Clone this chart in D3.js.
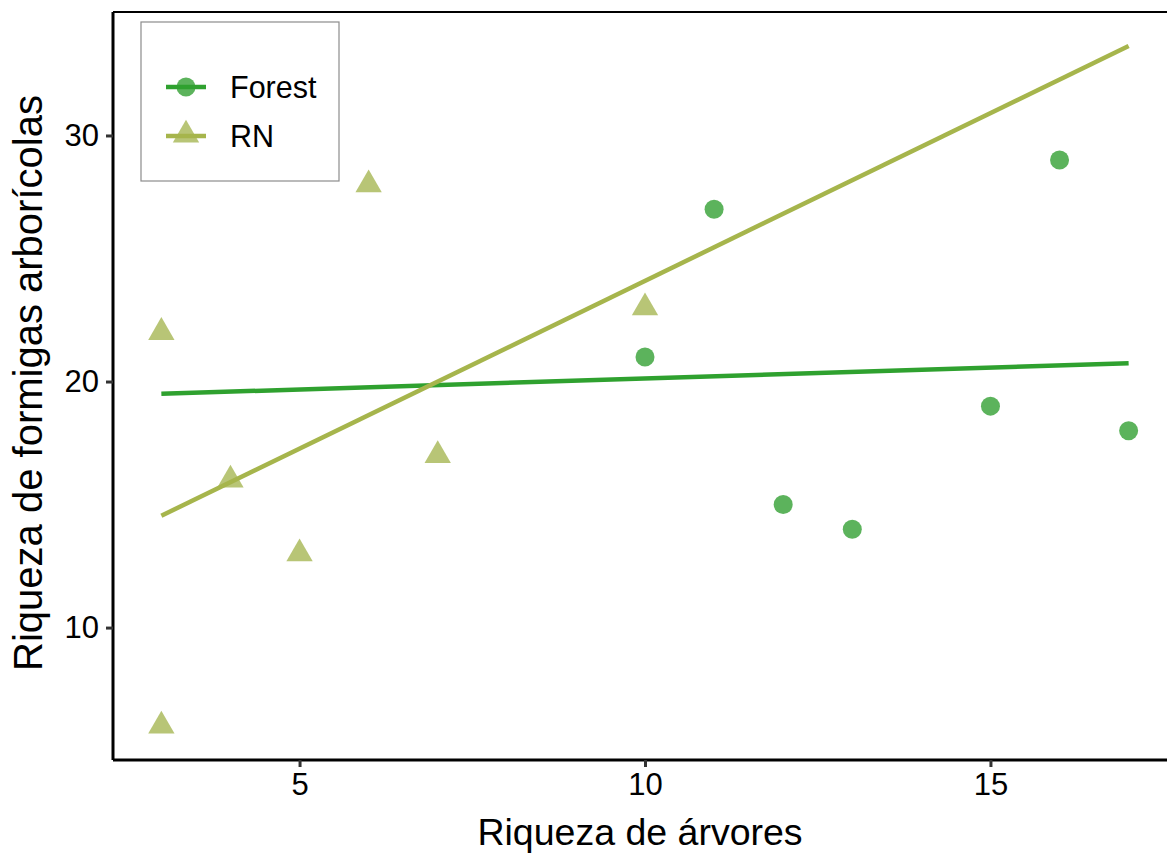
<!DOCTYPE html>
<html>
<head>
<meta charset="utf-8">
<script src="https://cdn.jsdelivr.net/npm/d3@7"></script>
<style>
  html, body { margin: 0; padding: 0; background: #fff; overflow: hidden; }
  svg { display: block; }
  text { font-family: "Liberation Sans", Arial, sans-serif; fill: #000; }
</style>
</head>
<body>
<svg id="chart" width="1167" height="854"></svg>
<script>
// ---- Data ----
const groups = ["Forest", "RN"];
const forestTrees = [10, 11, 12, 13, 15, 16, 17];
const forestAnts  = [21, 27, 15, 14, 19, 29, 18];
const rnTrees = [3, 3, 4, 5, 6, 7, 10];
const rnAnts  = [22, 6, 16, 13, 28, 17, 23];
const xTicks = [5, 10, 15];
const yTicks = [10, 20, 30];
const xTitle = "Riqueza de árvores";
const yTitle = "Riqueza de formigas arborícolas";

const colors = { Forest: { line: "#2fa12f", point: "#4aab4a" },
                 RN:     { line: "#a6b54c", point: "#abbb5e" } };

const W = 1167, H = 854;
const svg = d3.select("#chart");

// linear regression
function fit(xs, ys) {
  const n = xs.length, mx = d3.mean(xs), my = d3.mean(ys);
  let sxy = 0, sxx = 0;
  for (let i = 0; i < n; i++) { sxy += (xs[i]-mx)*(ys[i]-my); sxx += (xs[i]-mx)**2; }
  const b = sxy / sxx, a = my - b*mx;
  return x => a + b*x;
}
const allX = forestTrees.concat(rnTrees);
const xMin = d3.min(allX), xMax = d3.max(allX);
const fF = fit(forestTrees, forestAnts), fR = fit(rnTrees, rnAnts);
const series = [
  { key: "Forest", xs: forestTrees, ys: forestAnts, f: fF },
  { key: "RN", xs: rnTrees, ys: rnAnts, f: fR }
];
const yAll = forestAnts.concat(rnAnts, [fF(xMin), fF(xMax), fR(xMin), fR(xMax)]);
const yMin = d3.min(yAll), yMax = d3.max(yAll);
const xPad = (xMax - xMin) * 0.05, yPad = (yMax - yMin) * 0.05;

const panel = { left: 113, top: 12, bottom: 760 };
const x = d3.scaleLinear().domain([xMin - xPad, xMax + xPad]).range([panel.left, panel.left + 1064]);
const y = d3.scaleLinear().domain([yMin - yPad, yMax + yPad]).range([panel.bottom, panel.top]);

const g = svg.append("g");

// points
series.forEach(s => {
  s.xs.forEach((xv, i) => {
    if (s.key === "Forest") {
      g.append("circle").attr("cx", x(xv)).attr("cy", y(s.ys[i])).attr("r", 9.5)
        .attr("fill", colors.Forest.point).attr("fill-opacity", 0.9);
    } else {
      g.append("path")
        .attr("d", d3.symbol().type(d3.symbolTriangle).size(300)())
        .attr("transform", `translate(${x(xv)},${y(s.ys[i])})`)
        .attr("fill", colors.RN.point).attr("fill-opacity", 0.85);
    }
  });
});

// regression lines
series.forEach(s => {
  g.append("line")
    .attr("x1", x(xMin)).attr("y1", y(s.f(xMin)))
    .attr("x2", x(xMax)).attr("y2", y(s.f(xMax)))
    .attr("stroke", colors[s.key].line).attr("stroke-width", 4.5);
});

// panel top border
g.append("line").attr("x1", panel.left).attr("x2", W).attr("y1", panel.top).attr("y2", panel.top)
  .attr("stroke", "#000").attr("stroke-width", 2);

// axes
const xAxis = d3.axisBottom(x).tickValues(xTicks).tickSize(7).tickPadding(6);
const yAxis = d3.axisLeft(y).tickValues(yTicks).tickSize(7).tickPadding(7);
const gx = svg.append("g").attr("transform", `translate(0,${panel.bottom})`).call(xAxis);
const gy = svg.append("g").attr("transform", `translate(${panel.left},0)`).call(yAxis);
[gx, gy].forEach(a => {
  a.select(".domain").attr("stroke", "#000").attr("stroke-width", 3);
  a.selectAll(".tick line").attr("stroke", "#333").attr("stroke-width", 3);
  a.selectAll(".tick text").attr("font-size", 31).attr("fill", "#111")
    .style("font-family", "'Liberation Sans', Arial, sans-serif");
});
gx.select(".domain").attr("d", `M${panel.left},0H${W}`);
gy.select(".domain").attr("d", `M0,${panel.bottom}V${panel.top}`);

// axis titles
svg.append("text").attr("x", (panel.left + 1177) / 2 - 5).attr("y", 845)
  .attr("text-anchor", "middle").attr("font-size", 37.5).text(xTitle);
svg.append("text").attr("transform", `translate(42,${(panel.top + panel.bottom)/2 - 3}) rotate(-90)`)
  .attr("text-anchor", "middle").attr("font-size", 40).text(yTitle);

// legend
const lg = svg.append("g");
lg.append("rect").attr("x", 141).attr("y", 22).attr("width", 198).attr("height", 159)
  .attr("fill", "#fff").attr("stroke", "#8c8c8c").attr("stroke-width", 1.2);
const legY = [87, 136];
groups.forEach((k, i) => {
  const yy = legY[i];
  if (k === "Forest") {
    lg.append("circle").attr("cx", 186).attr("cy", yy).attr("r", 9.5)
      .attr("fill", colors.Forest.point).attr("fill-opacity", 0.9);
  } else {
    lg.append("path").attr("d", d3.symbol().type(d3.symbolTriangle).size(300)())
      .attr("transform", `translate(186,${yy - 1})`)
      .attr("fill", colors.RN.point).attr("fill-opacity", 0.85);
  }
  lg.append("line").attr("x1", 166).attr("x2", 206).attr("y1", yy).attr("y2", yy)
    .attr("stroke", colors[k].line).attr("stroke-width", 4.5);
  lg.append("text").attr("x", 230).attr("y", yy + 11).attr("font-size", 30.5).text(k);
});
</script>
</body>
</html>
